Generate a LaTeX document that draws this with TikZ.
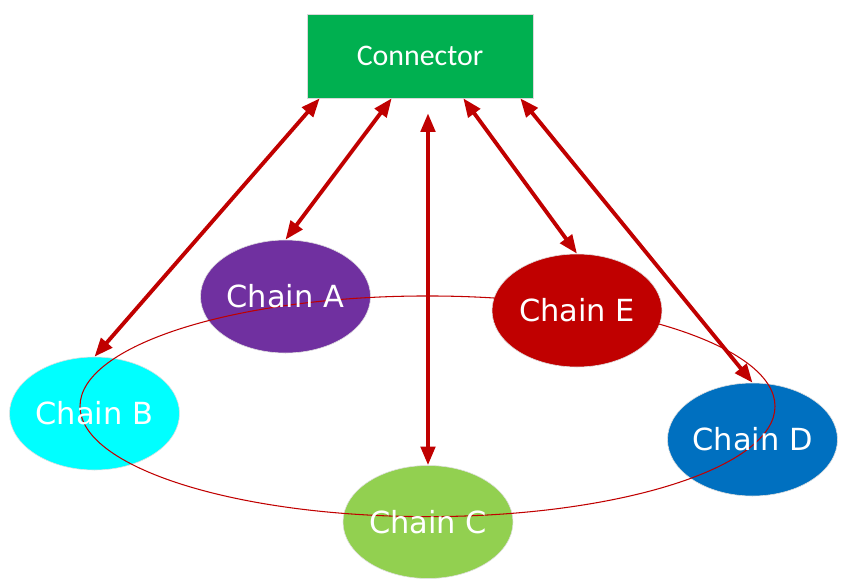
\documentclass[tikz,border=0pt]{standalone}
\usepackage{fontspec}
\setmainfont{DejaVu Sans}
\newfontfamily\connfont{Carlito}
\usepackage{tikz}
\usetikzlibrary{arrows.meta,positioning,shapes.geometric,calc}
\definecolor{linkred}{HTML}{C00000}
\definecolor{conngreen}{HTML}{00B050}
\definecolor{chainA}{HTML}{7030A0}
\definecolor{chainB}{HTML}{00FFFF}
\definecolor{chainC}{HTML}{92D050}
\definecolor{chainD}{HTML}{0070C0}
\definecolor{chainE}{HTML}{C00000}

\begin{document}
\begin{tikzpicture}[x=0.3mm,y=-0.3mm,
  connbox/.style={rectangle,fill=conngreen,draw=gray!30,line width=0.5pt,minimum width=67.8mm,minimum height=25.2mm,inner sep=0pt},
  blob/.style={ellipse,draw=gray!25,line width=0.5pt,minimum width=51mm,minimum height=33.9mm,inner sep=0pt},
  lbl/.style={text=white,font=\fontsize{26}{30}\selectfont,inner sep=0pt},
  link/.style={linkred,line width=3.3pt,>={Triangle[length=5.6mm,width=4.3mm]},<->}]
\useasboundingbox (0,0) rectangle (841,586);
% connector and chains
\node[connbox,text=white,font=\connfont\fontsize{25.5}{30}\selectfont] (conn) at (420,56) {Connector};
\node[blob,fill=chainA] (chA) at (285.5,296.5) {};
\node[blob,fill=chainB] (chB) at (94.5,413.5) {};
\node[blob,fill=chainC] (chC) at (428,522) {};
\node[blob,fill=chainD] (chD) at (752.5,439.5) {};
\node[blob,fill=chainE] (chE) at (577,310.5) {};
% ring through the chains
\draw[linkred,line width=0.9pt] (427.5,406.3) ellipse [x radius=104.25mm, y radius=33.1mm];
\node[lbl] at (chA) {Chain A};
\node[lbl] at (chB) {Chain B};
\node[lbl] at (chC) {Chain C};
\node[lbl] at (chD) {Chain D};
\node[lbl] at (chE) {Chain E};
% links
\coordinate (p1) at ($(conn.south west)+(13,0)$);
\coordinate (p2) at ($(conn.south west)+(85,0)$);
\coordinate (p3) at ($(chC.north |- conn.south)+(0,15)$);
\coordinate (p4) at ($(conn.south east)+(-70,0)$);
\coordinate (p5) at ($(conn.south east)+(-13,0)$);
\draw[link] (p1) -- (chB.north);
\draw[link] (p2) -- (chA.north);
\draw[link] (p3) -- (chC.north);
\draw[link] (p4) -- (chE.north);
\draw[link] (p5) -- (chD.north);
\end{tikzpicture}
\end{document}
